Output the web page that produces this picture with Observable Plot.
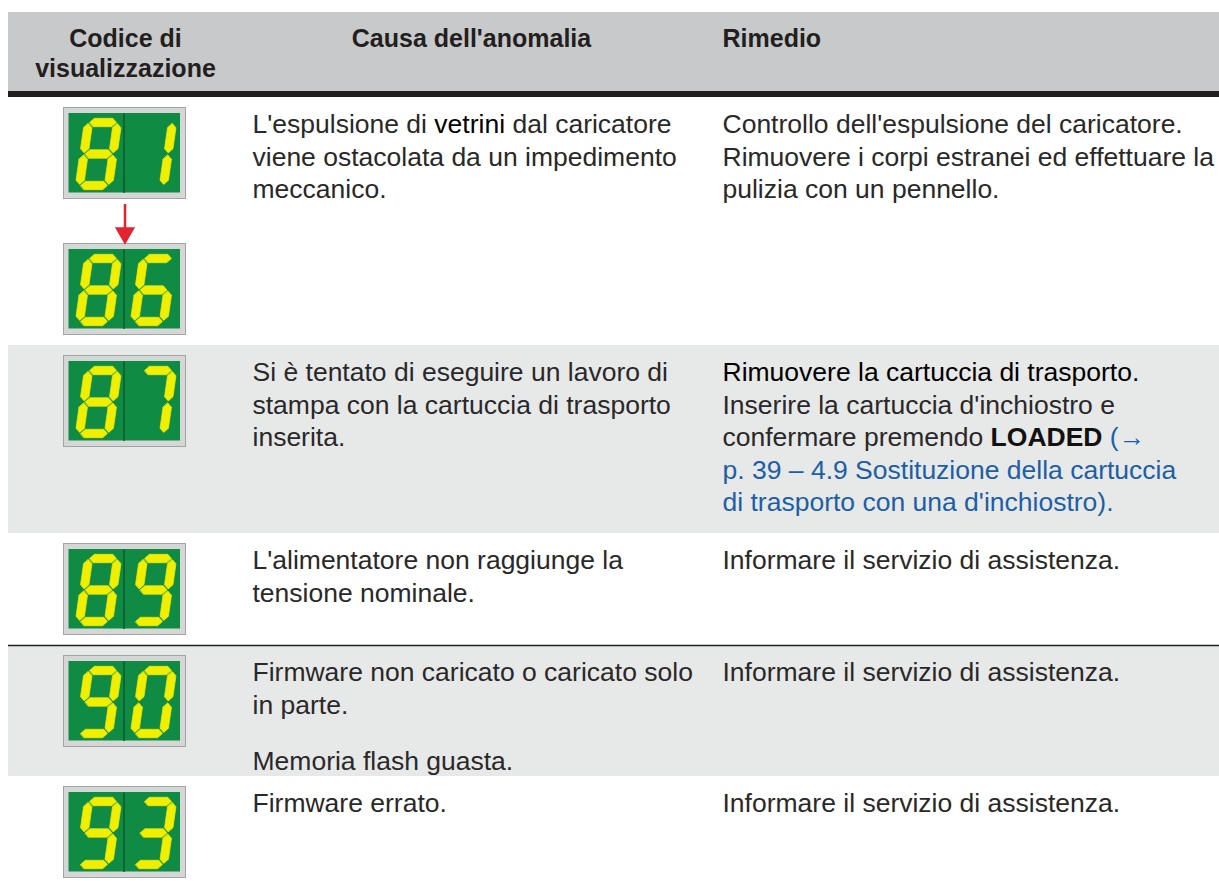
<!DOCTYPE html>
<html><head><meta charset="utf-8">
<script src="https://cdn.jsdelivr.net/npm/d3@7"></script>
<script src="https://cdn.jsdelivr.net/npm/@observablehq/plot@0.6"></script>
<style>
body{margin:0;background:#fff;}
#chart svg{display:block;}
</style></head><body><div id="chart"></div>
<script>
// ---------- data ----------
const headers = ["Codice di\nvisualizzazione", "Causa dell'anomalia", "Rimedio"];
const codes = [["81", "86"], ["87"], ["89"], ["90"], ["93"]];
const causes = [
  ["L'espulsione di {{vetrini}} dal caricatore\nviene ostacolata da un impedimento\nmeccanico."],
  ["Si è tentato di eseguire un lavoro di\nstampa con la cartuccia di trasporto\ninserita."],
  ["L'alimentatore non raggiunge la\ntensione nominale."],
  ["Firmware non caricato o caricato solo\nin parte.", "Memoria flash guasta."],
  ["Firmware errato."]
];
const remedies = [
  ["Controllo dell'espulsione del caricatore.\nRimuovere i corpi estranei ed effettuare la\npulizia con un pennello."],
  ["{{Rimuovere la cartuccia di trasporto.}}\nInserire la cartuccia d'inchiostro e\nconfermare premendo **LOADED** [[(→]]\n[[p. 39 – 4.9 Sostituzione della cartuccia]]\n[[di trasporto con una d'inchiostro).]]"],
  ["Informare il servizio di assistenza."],
  ["Informare il servizio di assistenza."],
  ["Informare il servizio di assistenza."]
];
const digitSegments = {"0": "abcdef", "1": "bc", "3": "abcdg", "6": "acdefg", "7": "abc", "8": "abcdefg", "9": "abcdfg"};

// ---------- layout ----------
const W = 1219, H = 881;
const FONT = "'Liberation Sans', Arimo, Arial, sans-serif";
const FS = 26.5, LH = 32.5, PGAP = 24, ROW_PAD = 25.5, ROW_GAP_H = 8;
const HFS = 25, HLH = 30;
const TABLE_X = 8, HEAD_TOP = 12, HEAD_BOT = 91, BAR = 6;
const COL_CODE = 125, COL_CAUSE = 252, COL_CAUSE_C = 471, COL_REM = 722;
const DISP_W = 122, DISP_H = 91, DISP_GAP = 45, DISP_PAD = 10.5;

const nLines = list => d3.sum(list, p => p.split("\n").length);
const rowTextH = list => nLines(list) * LH + (list.length - 1) * ROW_GAP_H + ROW_PAD;
const rows = [];
let cursor = HEAD_BOT + BAR;
codes.forEach((c, i) => {
  const codeH = c.length * DISP_H + (c.length - 1) * DISP_GAP + 2 * DISP_PAD;
  const h = Math.max(codeH, rowTextH(causes[i]), rowTextH(remedies[i]));
  rows.push({i, top: cursor, bottom: cursor + h});
  cursor += h;
});

// ---------- seven-segment displays ----------
const displays = [], segPts = [], arrows = [];
const DW = 29, DH = 63, SL = 9, T7 = 8.4, GAPS = 1.1, DTOP = 14.5, DLEFT = [15.5, 70.5];
const SEG = {
  a: ["h", 0], d: ["h", DH], g: ["h", DH / 2],
  f: ["v", 0, 0], b: ["v", DW, 0], e: ["v", 0, DH / 2], c: ["v", DW, DH / 2]
};
function hexagon(s) {
  const t = T7 / 2, [dir, p, q] = SEG[s];
  if (dir === "h") {
    const a = GAPS, b = DW - GAPS, y = p;
    return [[a, y], [a + t, y - t], [b - t, y - t], [b, y], [b - t, y + t], [a + t, y + t]];
  }
  const x = p, a = q + GAPS, b = q + DH / 2 - GAPS;
  return [[x, a], [x + t, a + t], [x + t, b - t], [x, b], [x - t, b - t], [x - t, a + t]];
}
let segId = 0;
rows.forEach(r => {
  codes[r.i].forEach((code, k) => {
    const x0 = COL_CODE - DISP_W / 2 - 0.5;
    const y0 = r.top + DISP_PAD + k * (DISP_H + DISP_GAP);
    displays.push({x0, y0});
    if (k > 0) arrows.push({x: x0 + DISP_W / 2, y1: y0 - DISP_GAP + 5, y2: y0 - 4});
    [...code].forEach((ch, j) => {
      const L = x0 + DLEFT[j], T = y0 + DTOP;
      for (const s of digitSegments[ch]) {
        const id = segId++;
        hexagon(s).forEach(([u, v]) => segPts.push({id, x: L + u + (1 - v / DH) * SL, y: T + v}));
      }
    });
  });
});

// ---------- text paragraphs ----------
const paras = [];
rows.forEach(r => {
  [[causes[r.i], COL_CAUSE], [remedies[r.i], COL_REM]].forEach(([list, x]) => {
    let y = r.top + 12.5;
    list.forEach(p => {
      paras.push({x, y, text: p});
      y += p.split("\n").length * LH + PGAP;
    });
  });
});

const headerData = [
  {x: COL_CODE, text: headers[0], anchor: "middle"},
  {x: COL_CAUSE_C, text: headers[1], anchor: "middle"},
  {x: COL_REM, text: headers[2], anchor: "start"}
];

const chart = Plot.plot({
  width: W, height: H, margin: 0,
  x: {domain: [0, W], range: [0, W], axis: null},
  y: {domain: [0, H], range: [0, H], axis: null},
  style: {fontFamily: FONT, background: "#fff"},
  marks: [
    Plot.rect([0], {x1: TABLE_X, x2: W, y1: HEAD_TOP, y2: HEAD_BOT, fill: "#c8c9cb"}),
    Plot.rect([0], {x1: TABLE_X, x2: W, y1: HEAD_BOT, y2: HEAD_BOT + BAR, fill: "#231f20"}),
    Plot.rect(rows.filter(r => r.i % 2 === 1), {x1: TABLE_X, x2: W, y1: "top", y2: "bottom", fill: "#e7e8e8"}),
    Plot.ruleY(rows.filter(r => r.i === 3), {y: "top", x1: TABLE_X, x2: W, stroke: "#231f20", strokeWidth: 1.5}),
    Plot.text(headerData.filter(d => d.anchor === "middle"), {x: "x", y: 25.5, text: "text", textAnchor: "middle", lineAnchor: "top", lineHeight: HLH / HFS, fontSize: HFS, fontWeight: "bold", fill: "#231f20"}),
    Plot.text(headerData.filter(d => d.anchor === "start"), {x: "x", y: 25.5, text: "text", textAnchor: "start", lineAnchor: "top", lineHeight: HLH / HFS, fontSize: HFS, fontWeight: "bold", fill: "#231f20"}),
    Plot.rect(displays, {x1: "x0", x2: d => d.x0 + DISP_W, y1: "y0", y2: d => d.y0 + DISP_H, fill: "#d5d6d6", stroke: "#a3a5a4", strokeWidth: 1}),
    Plot.rect(displays, {x1: d => d.x0 + 5, x2: d => d.x0 + DISP_W - 5.5, y1: d => d.y0 + 5.5, y2: d => d.y0 + DISP_H - 6, fill: "#0f8b43"}),
    Plot.link(displays, {x1: d => d.x0 + 60, x2: d => d.x0 + 60, y1: d => d.y0 + 5.5, y2: d => d.y0 + DISP_H - 6, stroke: "#0a5a2a", strokeWidth: 1.5}),
    Plot.line(segPts, {x: "x", y: "y", z: "id", curve: "linear-closed", fill: "#f1ef00", stroke: "#e6ea10", strokeWidth: 0.8}),
    Plot.link(arrows, {x1: "x", x2: "x", y1: "y1", y2: d => d.y2 - 10, stroke: "#e3232f", strokeWidth: 2.5}),
    Plot.dot(arrows, {x: "x", y: d => d.y2 - 7, symbol: "triangle", r: 7.5, rotate: 180, fill: "#e3232f", stroke: null}),
    Plot.text(paras, {x: "x", y: "y", text: "text", textAnchor: "start", lineAnchor: "top", lineHeight: LH / FS, fontSize: FS, fill: "#2a2828"})
  ]
});

// rich-text markers -> styled spans
const re = /(\*\*.+?\*\*|\[\[.+?\]\]|\{\{.+?\}\})/;
chart.querySelectorAll("text, tspan").forEach(el => {
  if (el.children.length) return;
  const s = el.textContent;
  if (!re.test(s)) return;
  el.textContent = "";
  s.split(re).filter(t => t).forEach(t => {
    const sp = document.createElementNS("http://www.w3.org/2000/svg", "tspan");
    if (t.startsWith("**")) { sp.textContent = t.slice(2, -2); sp.setAttribute("font-weight", "bold"); sp.setAttribute("fill", "#111"); }
    else if (t.startsWith("[[")) { sp.textContent = t.slice(2, -2); sp.setAttribute("fill", "#1c5fa6"); }
    else if (t.startsWith("{{")) { sp.textContent = t.slice(2, -2); sp.setAttribute("fill", "#000"); }
    else sp.textContent = t;
    el.appendChild(sp);
  });
});
document.getElementById("chart").appendChild(chart);
</script></body></html>
